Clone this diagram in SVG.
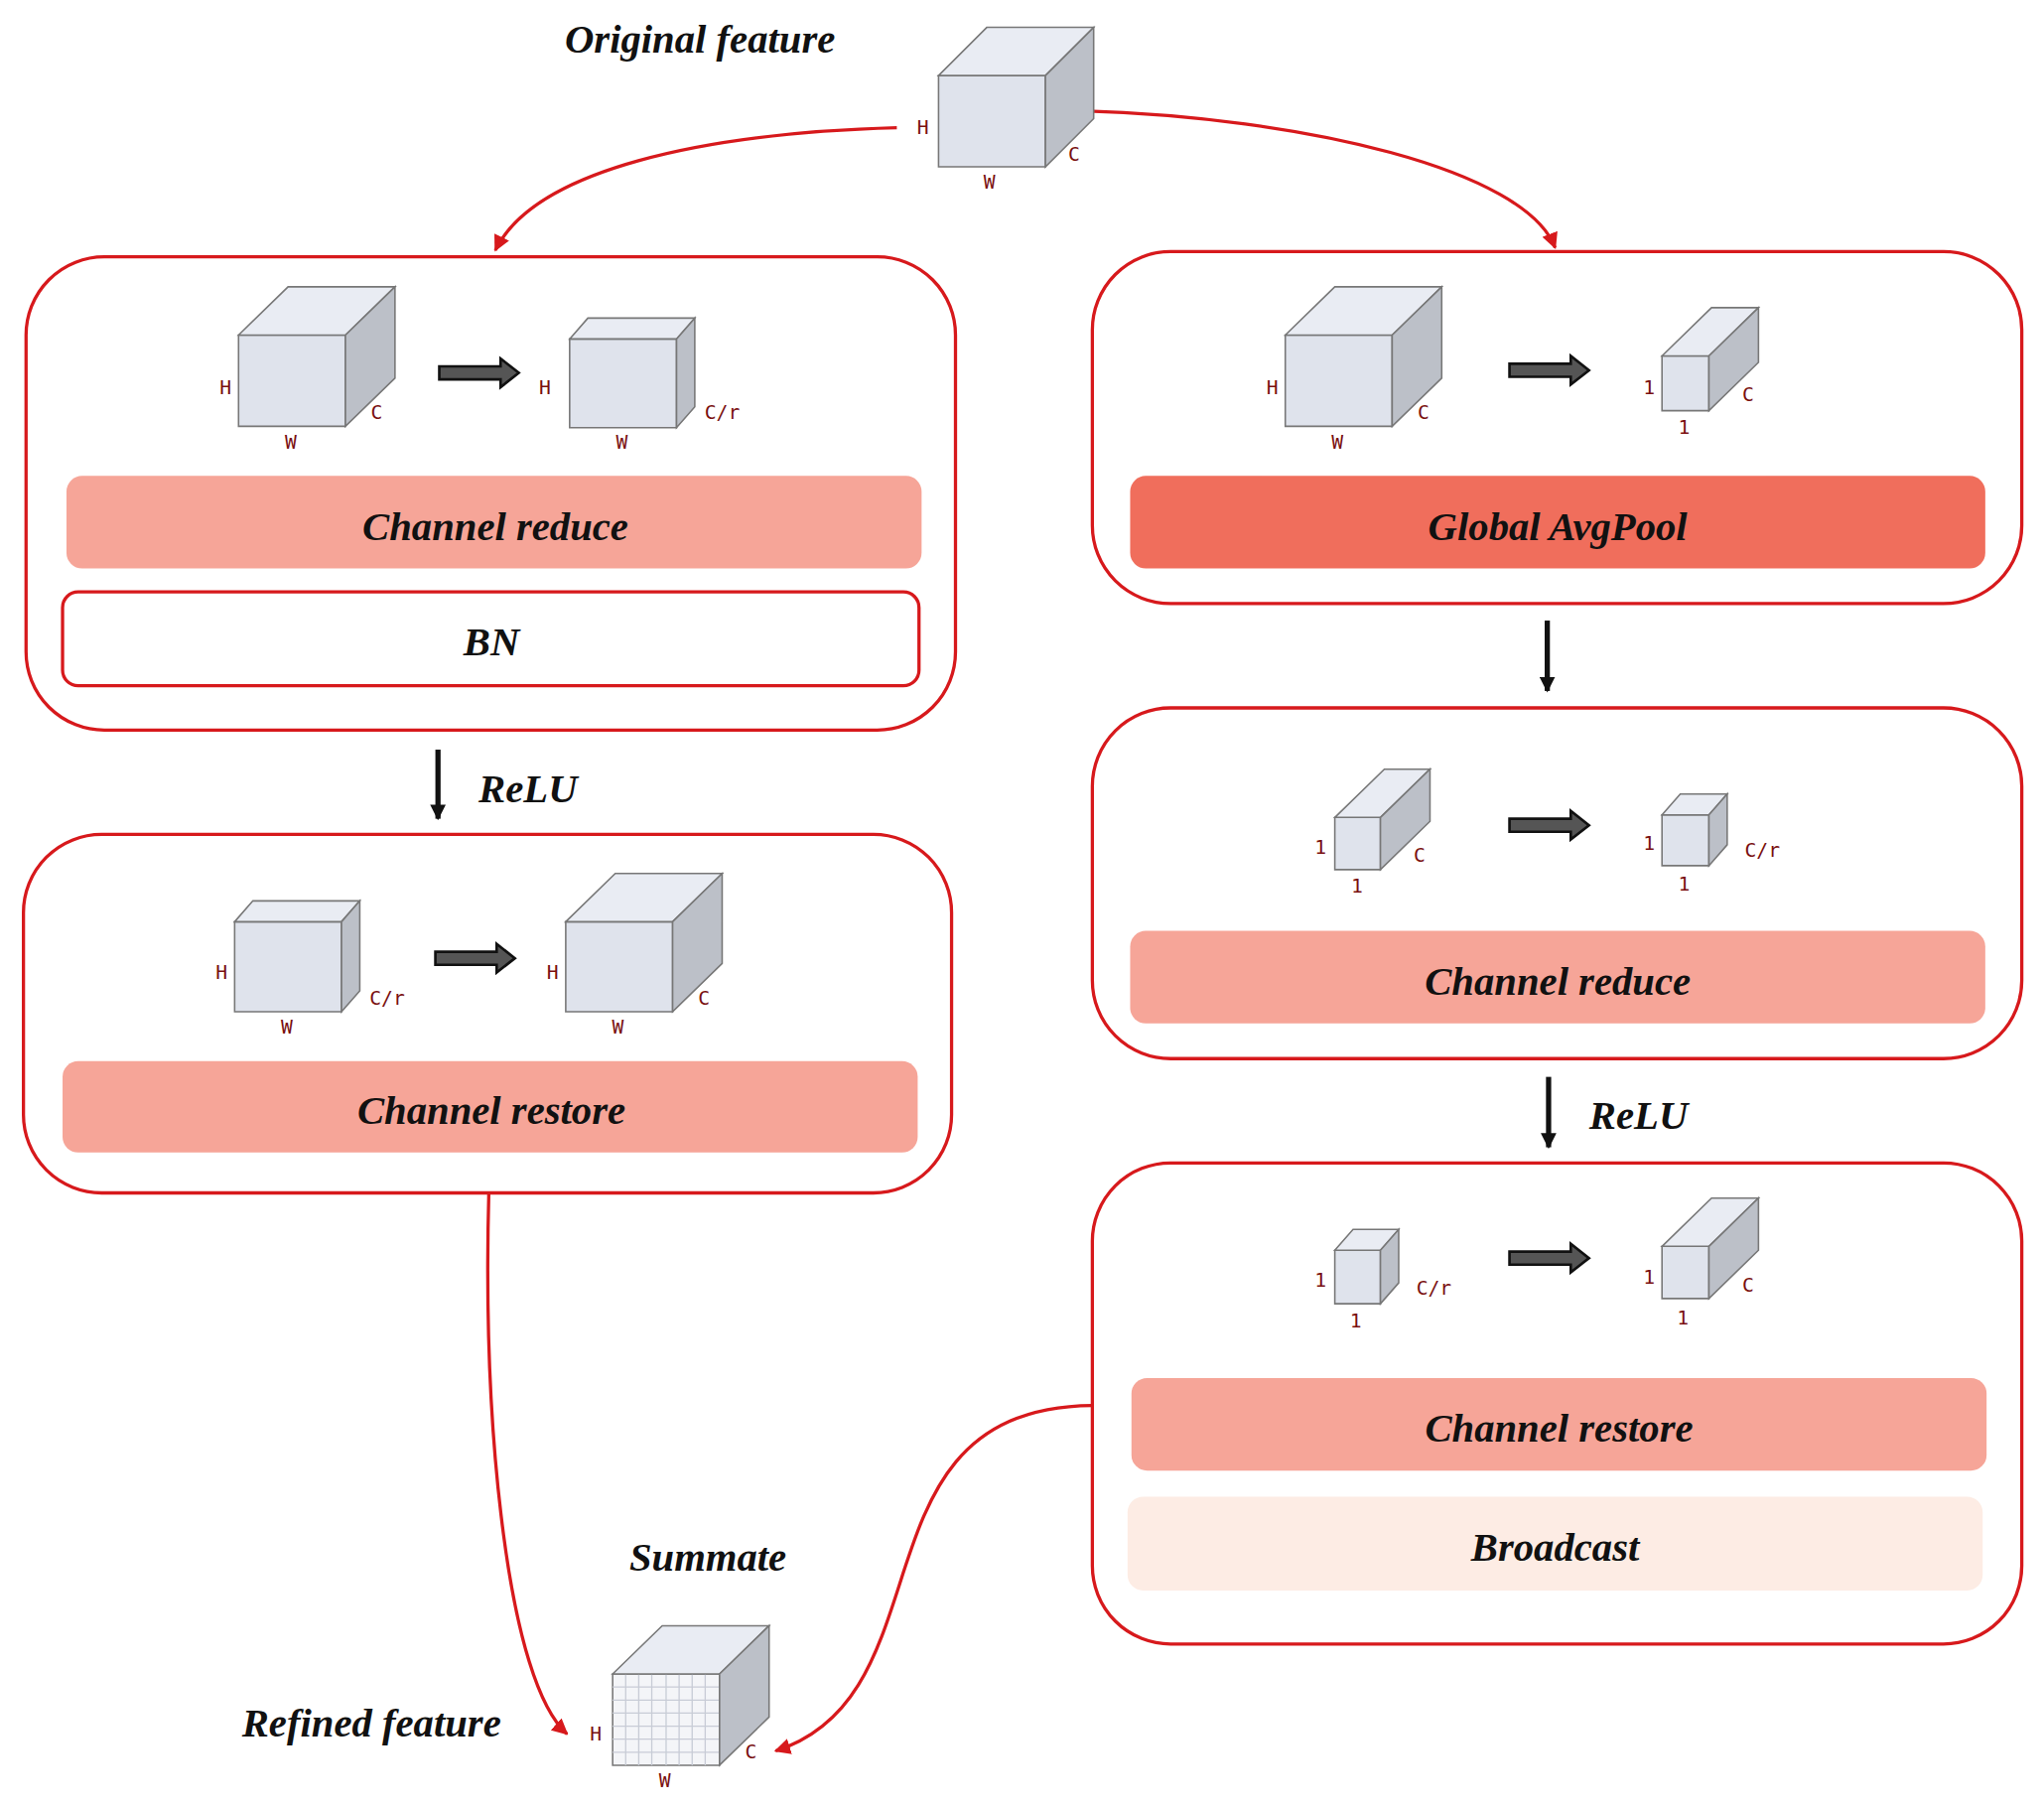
<svg xmlns="http://www.w3.org/2000/svg" width="2059" height="1820" viewBox="0 0 2059 1820">
<style>
.box{fill:#fff;stroke:#d7191c;stroke-width:2.5}
.t{font-family:"Liberation Serif",serif;font-style:italic;font-weight:bold;font-size:31px;text-anchor:middle;fill:#111}
.d{font-family:"DejaVu Sans Mono","Liberation Mono",monospace;font-size:15px;fill:#7a1010;text-anchor:middle}
.fr{fill:#dfe3ec;stroke:#777;stroke-width:1.2}
.tp{fill:#e9ecf3;stroke:#777;stroke-width:1.2}
.sd{fill:#bcc0c8;stroke:#777;stroke-width:1.2}
.ba{fill:#555;stroke:#111;stroke-width:2}
.red{fill:none;stroke:#d7191c;stroke-width:2.5}
.blk{fill:none;stroke:#111;stroke-width:4}
</style>
<defs>
<marker id="ar" viewBox="0 0 10 10" refX="9" refY="5" markerWidth="5" markerHeight="5" orient="auto"><path d="M0,0L10,5L0,10z" fill="#d7191c"/></marker>
<marker id="ab" viewBox="0 0 10 10" refX="9" refY="5" markerWidth="3" markerHeight="3" orient="auto"><path d="M0,0L10,5L0,10z" fill="#111"/></marker>
</defs>
<rect width="2059" height="1820" fill="#fff"/>
<g transform="scale(1.3131)">
<g id="connectors">
<path class="red" d="M688,98 C540,102 410,130 380,192" marker-end="url(#ar)"/>
<path class="red" d="M830,85 C1000,90 1170,130 1193,190" marker-end="url(#ar)"/>
<path class="red" d="M375,915 C370,1100 390,1290 435,1330" marker-end="url(#ar)"/>
<path class="red" d="M838,1078 C650,1080 730,1300 595,1343" marker-end="url(#ar)"/>
<path class="blk" d="M336,575 V628" marker-end="url(#ab)"/>
<path class="blk" d="M1187,476 V530" marker-end="url(#ab)"/>
<path class="blk" d="M1188,826 V880" marker-end="url(#ab)"/>
</g>
<g id="original">
<text class="t" x="537" y="40">Original feature</text>
<polygon class="fr" points="720,58 802,58 802,128 720,128"/>
<polygon class="tp" points="720,58 757,21 839,21 802,58"/>
<polygon class="sd" points="802,58 839,21 839,91 802,128"/>
<text class="d" x="708" y="103">H</text><text class="d" x="759" y="145">W</text><text class="d" x="824" y="123">C</text>
</g>
<g id="left1">
<rect class="box" x="20" y="197" width="713" height="363" rx="60"/>
<polygon class="fr" points="183,257 265,257 265,327 183,327"/>
<polygon class="tp" points="183,257 221,220 303,220 265,257"/>
<polygon class="sd" points="265,257 303,220 303,290 265,327"/>
<text class="d" x="173" y="302">H</text><text class="d" x="223" y="344">W</text><text class="d" x="289" y="321">C</text>
<path class="ba" d="M337,281H384V275L398,286L384,297V291H337Z"/>
<polygon class="fr" points="437,260 519,260 519,328 437,328"/>
<polygon class="tp" points="437,260 451,244 533,244 519,260"/>
<polygon class="sd" points="519,260 533,244 533,312 519,328"/>
<text class="d" x="418" y="302">H</text><text class="d" x="477" y="344">W</text><text class="d" x="554" y="321">C/r</text>
<rect x="51" y="365" width="656" height="71" rx="12" fill="#f6a598"/>
<text class="t" x="380" y="414">Channel reduce</text>
<rect x="48" y="454" width="657" height="72" rx="12" class="box"/>
<text class="t" x="377" y="503">BN</text>
</g>
<text class="t" x="405" y="615">ReLU</text>
<g id="left2">
<rect class="box" x="18" y="640" width="712" height="275" rx="60"/>
<polygon class="fr" points="180,707 262,707 262,776 180,776"/>
<polygon class="tp" points="180,707 194,691 276,691 262,707"/>
<polygon class="sd" points="262,707 276,691 276,760 262,776"/>
<text class="d" x="170" y="751">H</text><text class="d" x="220" y="793">W</text><text class="d" x="297" y="771">C/r</text>
<path class="ba" d="M334,730H381V724L395,735L381,746V740H334Z"/>
<polygon class="fr" points="434,707 516,707 516,776 434,776"/>
<polygon class="tp" points="434,707 472,670 554,670 516,707"/>
<polygon class="sd" points="516,707 554,670 554,739 516,776"/>
<text class="d" x="424" y="751">H</text><text class="d" x="474" y="793">W</text><text class="d" x="540" y="771">C</text>
<rect x="48" y="814" width="656" height="70" rx="12" fill="#f6a598"/>
<text class="t" x="377" y="862">Channel restore</text>
</g>
<g id="right1">
<rect class="box" x="838" y="193" width="713" height="270" rx="60"/>
<polygon class="fr" points="986,257 1068,257 1068,327 986,327"/>
<polygon class="tp" points="986,257 1024,220 1106,220 1068,257"/>
<polygon class="sd" points="1068,257 1106,220 1106,290 1068,327"/>
<text class="d" x="976" y="302">H</text><text class="d" x="1026" y="344">W</text><text class="d" x="1092" y="321">C</text>
<path class="ba" d="M1158,279H1205V273L1219,284L1205,295V289H1158Z"/>
<polygon class="fr" points="1275,273 1311,273 1311,315 1275,315"/>
<polygon class="tp" points="1275,273 1313,236 1349,236 1311,273"/>
<polygon class="sd" points="1311,273 1349,236 1349,278 1311,315"/>
<text class="d" x="1265" y="302">1</text><text class="d" x="1292" y="333">1</text><text class="d" x="1341" y="308">C</text>
<rect x="867" y="365" width="656" height="71" rx="12" fill="#f06e5c"/>
<text class="t" x="1195" y="414">Global AvgPool</text>
</g>
<g id="right2">
<rect class="box" x="838" y="543" width="713" height="269" rx="60"/>
<polygon class="fr" points="1024,627 1059,627 1059,667 1024,667"/>
<polygon class="tp" points="1024,627 1062,590 1097,590 1059,627"/>
<polygon class="sd" points="1059,627 1097,590 1097,630 1059,667"/>
<text class="d" x="1013" y="655">1</text><text class="d" x="1041" y="685">1</text><text class="d" x="1089" y="661">C</text>
<path class="ba" d="M1158,628H1205V622L1219,633L1205,644V638H1158Z"/>
<polygon class="fr" points="1275,625 1311,625 1311,664 1275,664"/>
<polygon class="tp" points="1275,625 1289,609 1325,609 1311,625"/>
<polygon class="sd" points="1311,625 1325,609 1325,648 1311,664"/>
<text class="d" x="1265" y="652">1</text><text class="d" x="1292" y="683">1</text><text class="d" x="1352" y="657">C/r</text>
<rect x="867" y="714" width="656" height="71" rx="12" fill="#f6a598"/>
<text class="t" x="1195" y="763">Channel reduce</text>
</g>
<text class="t" x="1257" y="866">ReLU</text>
<g id="right3">
<rect class="box" x="838" y="892" width="713" height="369" rx="60"/>
<polygon class="fr" points="1024,959 1059,959 1059,1000 1024,1000"/>
<polygon class="tp" points="1024,959 1038,943 1073,943 1059,959"/>
<polygon class="sd" points="1059,959 1073,943 1073,984 1059,1000"/>
<text class="d" x="1013" y="987">1</text><text class="d" x="1040" y="1018">1</text><text class="d" x="1100" y="993">C/r</text>
<path class="ba" d="M1158,960H1205V954L1219,965L1205,976V970H1158Z"/>
<polygon class="fr" points="1275,956 1311,956 1311,996 1275,996"/>
<polygon class="tp" points="1275,956 1313,919 1349,919 1311,956"/>
<polygon class="sd" points="1311,956 1349,919 1349,959 1311,996"/>
<text class="d" x="1265" y="985">1</text><text class="d" x="1291" y="1016">1</text><text class="d" x="1341" y="991">C</text>
<rect x="868" y="1057" width="656" height="71" rx="12" fill="#f6a598"/>
<text class="t" x="1196" y="1106">Channel restore</text>
<rect x="865" y="1148" width="656" height="72" rx="12" fill="#fdece4"/>
<text class="t" x="1193" y="1197">Broadcast</text>
</g>
<g id="refined">
<text class="t" x="543" y="1205">Summate</text>
<text class="t" x="285" y="1332">Refined feature</text>
<polygon class="fr" points="470,1284 552,1284 552,1354 470,1354" fill="#f4f5f8" style="fill:#f4f5f8"/>
<path d="M480,1284V1354M490,1284V1354M500,1284V1354M511,1284V1354M521,1284V1354M531,1284V1354M541,1284V1354M470,1294H552M470,1304H552M470,1314H552M470,1324H552M470,1334H552M470,1344H552" stroke="#c8ccd6" stroke-width="1" fill="none"/>
<polygon class="tp" points="470,1284 508,1247 590,1247 552,1284"/>
<polygon class="sd" points="552,1284 590,1247 590,1317 552,1354"/>
<text class="d" x="457" y="1335">H</text><text class="d" x="510" y="1371">W</text><text class="d" x="576" y="1349">C</text>
</g>
</g>
</svg>
